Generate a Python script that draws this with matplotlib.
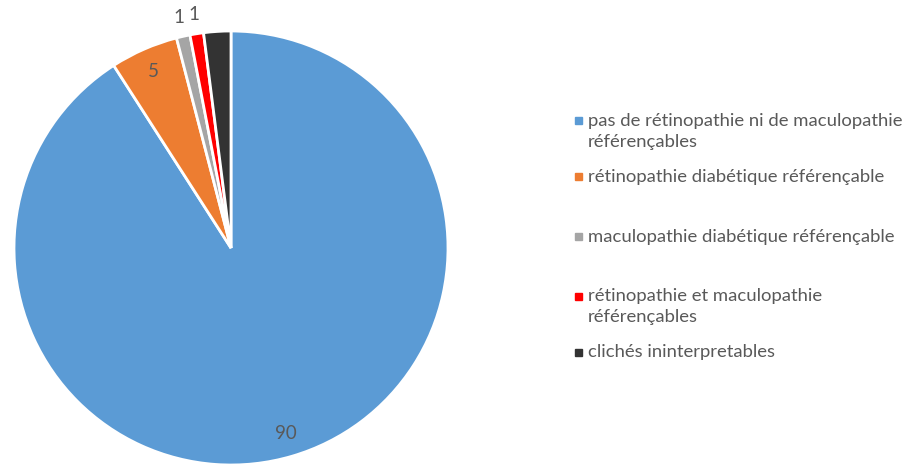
import numpy as np
import matplotlib
matplotlib.use("Agg")
import matplotlib.pyplot as plt
from matplotlib.patches import Rectangle

categories = [
    "pas de rétinopathie ni de maculopathie\nréférençables",
    "rétinopathie diabétique référençable",
    "maculopathie diabétique référençable",
    "rétinopathie et maculopathie\nréférençables",
    "clichés ininterpretables",
]
values = [90, 5, 1, 1, 2]
shown_labels = ["90", "5", "1", "1", ""]
colors = ["#5B9BD5", "#ED7D31", "#A5A5A5", "#FF0000", "#333333"]

plt.rcParams["font.family"] = ["Lato", "DejaVu Sans"]

W, H = 909, 465
fig = plt.figure(figsize=(W / 100, H / 100), dpi=100)

# pie centre (231, 248) px, radius 217 px
cx, cy, r = 231, 248, 217
ax = fig.add_axes([(cx - r) / W, (H - cy - r) / H, 2 * r / W, 2 * r / H])
wedges, _ = ax.pie(values, colors=colors, startangle=90, counterclock=False,
                   wedgeprops=dict(edgecolor="white", linewidth=2))
ax.set_xlim(-1, 1)
ax.set_ylim(-1, 1)
ax.set_aspect("equal")
ax.axis("off")

# value labels: inside for big slices, just outside for the thin ones
for w, lab, v in zip(wedges, shown_labels, values):
    if not lab:
        continue
    mid = np.deg2rad((w.theta1 + w.theta2) / 2)
    dist = 0.89 if v >= 5 else 1.09
    ax.text(dist * np.cos(mid), dist * np.sin(mid), lab, ha="center", va="center",
            fontsize=13.5, color="#595959", clip_on=False)

# legend drawn by hand (Excel spacing is uneven)
leg_y = [121, 177, 237, 296, 352]
for col, txt, y in zip(colors, categories, leg_y):
    fig.patches.append(Rectangle((575 / W, (H - y - 3.5) / H), 7 / W, 7 / H,
                                 transform=fig.transFigure, color=col))
    fig.text(588 / W, (H - y + 8) / H, txt, ha="left", va="top",
             fontsize=13.3, color="#595959", linespacing=1.42)

plt.savefig("out.png", dpi=100)
